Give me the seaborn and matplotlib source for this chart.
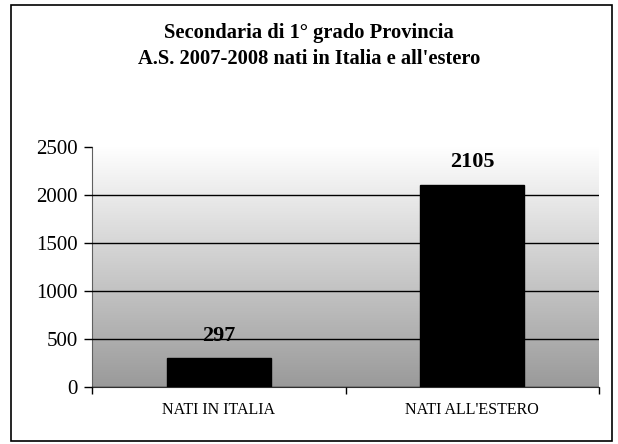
import numpy as np
import pandas as pd
import seaborn as sns
import matplotlib.pyplot as plt
from matplotlib.colors import LinearSegmentedColormap
from matplotlib.patches import Rectangle

categories = ["NATI IN ITALIA", "NATI ALL'ESTERO"]
values = [297, 2105]
yticks = [0, 500, 1000, 1500, 2000, 2500]
title = "Secondaria di 1° grado Provincia\nA.S. 2007-2008 nati in Italia e all'estero"

df = pd.DataFrame({"cat": categories, "val": values})

sns.set_style("white")
plt.rcParams["font.family"] = ["Liberation Serif", "DejaVu Serif"]
plt.rcParams["text.color"] = "black"
plt.rcParams["xtick.color"] = "black"
plt.rcParams["ytick.color"] = "black"

fig = plt.figure(figsize=(6.18, 4.44), dpi=100)
ax = fig.add_axes([92 / 618, 1 - 387 / 444, 507 / 618, 240 / 444])

# gradient plot area, white at top to grey at bottom
grad = np.linspace(0, 1, 256).reshape(-1, 1)
cmap = LinearSegmentedColormap.from_list("g", ["#ffffff", "#9a9a9a"])
ax.imshow(grad, aspect="auto", cmap=cmap, extent=[0, 1, 0, 1], origin="upper",
          transform=ax.transAxes, zorder=0)

sns.barplot(data=df, x="cat", y="val", color="black", width=0.41,
            saturation=1, ax=ax, zorder=3)
for p in ax.patches:
    p.set_edgecolor("black")

ax.set_xlim(-0.5, 1.5)
ax.set_ylim(0, 2500)
ax.set_yticks(yticks)
ax.yaxis.grid(True, color="black", linewidth=1)
ax.set_axisbelow(False)
for gl in ax.get_ygridlines():
    gl.set_zorder(2)
ax.get_ygridlines()[-1].set_visible(False)

ax.set_xticks([-0.5, 0.5, 1.5])
ax.set_xticklabels([])
ax.set_xticks([0, 1], minor=True)
ax.set_xticklabels(categories, minor=True, fontsize=11.5)
ax.tick_params(axis="x", which="minor", length=0, pad=11)
ax.tick_params(axis="x", which="major", direction="out", length=5, width=1, color="black", bottom=True)
ax.tick_params(axis="y", direction="out", length=6, width=1, color="black", left=True, labelsize=15, pad=4)
ax.set_xlabel("")
ax.set_ylabel("")

for s in ["top", "right"]:
    ax.spines[s].set_visible(False)
ax.spines["left"].set_color("#606060")
ax.spines["bottom"].set_color("#303030")

for i, v in enumerate(values):
    ax.annotate(str(v), (i, v), xytext=(0, 9), textcoords="offset points",
                ha="center", va="bottom", fontsize=16, fontweight="bold")

fig.text(0.5, 1 - 46 / 444, title, ha="center", va="center",
         fontsize=14.8, fontweight="bold", linespacing=1.45)

fig.patches.append(Rectangle((11 / 618, 1 - 441 / 444), 601 / 618, 436 / 444,
                             transform=fig.transFigure, fill=False,
                             edgecolor="black", linewidth=1.2))

fig.savefig("out.png", dpi=100)
